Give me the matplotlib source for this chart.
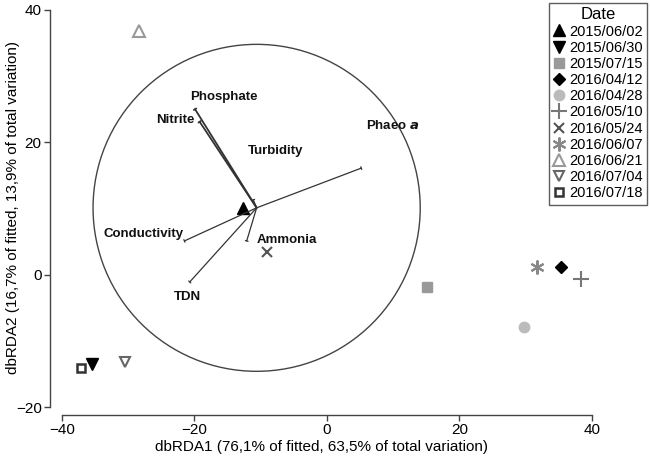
import matplotlib
matplotlib.use("Agg")
import matplotlib.pyplot as plt
from matplotlib.patches import Circle

plt.rcParams["font.family"] = ["Liberation Sans", "DejaVu Sans"]

# sample scores (dbRDA1, dbRDA2)
dates = ["2015/06/02", "2015/06/30", "2015/07/15", "2016/04/12", "2016/04/28",
         "2016/05/10", "2016/05/24", "2016/06/07", "2016/06/21", "2016/07/04",
         "2016/07/18"]
x_scores = [-12.6, -35.5, 15.1, 35.3, 29.7, 38.4, -9.1, 31.7, -28.3, -30.5, -37.1]
y_scores = [10.1, -13.5, -1.8, 1.1, -7.9, -0.6, 3.5, 1.2, 36.8, -13.2, -14.1]

# environmental vectors (end points, all start at the circle centre)
variables = ["Phosphate", "Nitrite", "Phaeo a", "Conductivity", "TDN", "Ammonia", "Turbidity"]
vec_x = [-19.9, -19.2, 5.2, -21.5, -20.7, -12.1, -11.1]
vec_y = [25.0, 23.1, 16.1, 5.1, -1.1, 5.1, 11.3]
label_x = [-15.5, -22.9, 10.0, -27.6, -21.0, -6.0, -7.7]
label_y = [26.8, 23.4, 22.5, 6.2, -3.3, 5.3, 18.7]
origin = (-10.6, 10.1)
radius = 24.7

styles = [
    dict(marker="^", color="black", ms=8),
    dict(marker="v", color="black", ms=8),
    dict(marker="s", color="#999999", ms=7.5),
    dict(marker="D", color="black", ms=6.5),
    dict(marker="o", color="#bbbbbb", ms=7.5),
    dict(marker="+", color="#777777", ms=11, mew=1.5),
    dict(marker="x", color="#555555", ms=7, mew=1.5),
    dict(marker=(6, 2, 0), color="#888888", ms=10, mew=1.5),
    dict(marker="^", color="#999999", mfc="none", ms=8, mew=1.5),
    dict(marker="v", color="#666666", mfc="none", ms=7.5, mew=1.5),
    dict(marker="s", color="#333333", mfc="none", ms=6, mew=1.8),
]

fig = plt.figure(figsize=(6.5, 4.57), dpi=100)
ax = fig.add_axes([50 / 650, 1 - 415 / 457, 555 / 650, 415 / 457])
ax.set_xlim(-41.8, 42.0)
ax.set_ylim(-21.2, 41.5)

ax.add_patch(Circle(origin, radius, fill=False, ec="#444444", lw=1.0))

for name, ex, ey in zip(variables, vec_x, vec_y):
    lw = 1.3 if name in ("Phosphate", "Nitrite") else 0.9
    ax.annotate("", xy=(ex, ey), xytext=origin,
                arrowprops=dict(arrowstyle="-[, widthB=0.1, lengthB=0", color="#333333", lw=lw,
                                shrinkA=0, shrinkB=0))

for name, lx, ly in zip(variables, label_x, label_y):
    if name == "Phaeo a":
        txt = r"Phaeo $\bfit{a}$"
    else:
        txt = name
    ax.text(lx, ly, txt, ha="center", va="center", fontsize=9.5, fontweight="bold", color="#111111")

handles = []
for d, xv, yv, st in zip(dates, x_scores, y_scores, styles):
    h, = ax.plot([xv], [yv], ls="none", label=d, clip_on=False, **st)
    handles.append(h)

for s in ("top", "right"):
    ax.spines[s].set_visible(False)
ax.spines["left"].set_bounds(-20, 40)
ax.spines["bottom"].set_bounds(-40, 40)
for s in ("left", "bottom"):
    ax.spines[s].set_color("#444444")
    ax.spines[s].set_linewidth(1.0)
ax.set_xticks([-40, -20, 0, 20, 40])
ax.set_yticks([-20, 0, 20, 40])
ax.tick_params(length=4, width=1.0, color="#444444", labelsize=11, pad=2)

ax.set_xlabel("dbRDA1 (76,1% of fitted, 63,5% of total variation)", fontsize=11)
ax.set_ylabel("dbRDA2 (16,7% of fitted, 13,9% of total variation)", fontsize=11)
ax.xaxis.set_label_coords(0.49, -0.06)
ax.yaxis.set_label_coords(-0.054, 0.5)

leg = fig.legend(handles=handles, loc="upper left", bbox_to_anchor=(549 / 650, 1 - 3 / 457),
                 title="Date", fontsize=10.5, title_fontsize=12, frameon=True, fancybox=False,
                 handlelength=0.8, handletextpad=0.3, labelspacing=0.15, borderpad=0.3,
                 borderaxespad=0, markerscale=1.0)
leg.get_frame().set_edgecolor("#333333")
leg.get_frame().set_linewidth(1.0)

fig.savefig("out.png", dpi=100)
